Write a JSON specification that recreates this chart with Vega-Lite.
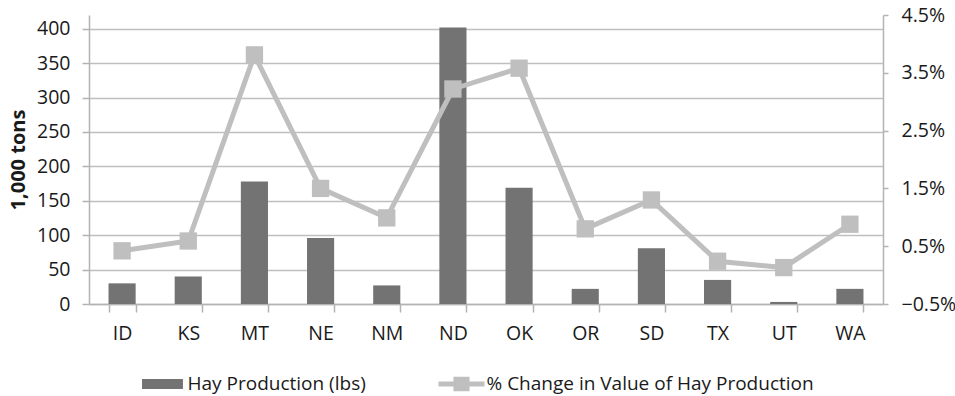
{
  "$schema": "https://vega.github.io/schema/vega-lite/v6.json",
  "width": 794,
  "height": 289,
  "autosize": {"type": "none"},
  "padding": {"left": 89, "top": 15, "right": 72, "bottom": 92},
  "background": "white",
  "config": {
    "font": "Open Sans",
    "view": {"stroke": null},
    "axis": {"labelFont": "Open Sans", "titleFont": "Open Sans", "labelColor": "#1a1a1a", "titleColor": "#1a1a1a", "domainColor": "#b3b3b3", "tickColor": "#b3b3b3", "domainWidth": 1.5, "tickWidth": 1.5}
  },
  "data": {
    "values": [
      {"state": "ID", "prod": 30, "pct": 0.0042},
      {"state": "KS", "prod": 40, "pct": 0.0059},
      {"state": "MT", "prod": 178, "pct": 0.0381},
      {"state": "NE", "prod": 96, "pct": 0.0150},
      {"state": "NM", "prod": 27, "pct": 0.0099},
      {"state": "ND", "prod": 402, "pct": 0.0322},
      {"state": "OK", "prod": 169, "pct": 0.0358},
      {"state": "OR", "prod": 22, "pct": 0.0080},
      {"state": "SD", "prod": 81, "pct": 0.0130},
      {"state": "TX", "prod": 35, "pct": 0.0024},
      {"state": "UT", "prod": 3, "pct": 0.0013},
      {"state": "WA", "prod": 22, "pct": 0.0088}
    ]
  },
  "encoding": {
    "x": {
      "field": "state",
      "type": "nominal",
      "sort": null,
      "scale": {"paddingInner": 0.59, "paddingOuter": 0.295},
      "axis": {"title": null, "labelAngle": 0, "labelFontSize": 19.5, "labelPadding": 12, "tickBand": "extent", "tickSize": 8, "grid": false}
    }
  },
  "layer": [
    {
      "mark": {"type": "bar", "color": "#737373"},
      "encoding": {
        "y": {
          "field": "prod",
          "type": "quantitative",
          "scale": {"domain": [0, 420], "nice": false},
          "axis": {"title": "1,000 tons", "titleFontSize": 20, "titleFontWeight": "bold", "titlePadding": 8, "values": [0, 50, 100, 150, 200, 250, 300, 350, 400], "labelFontSize": 19.5, "labelPadding": 12, "tickSize": 7, "grid": true, "gridColor": "#bfbfbf", "gridWidth": 1.5}
        },
        "color": {
          "datum": "Hay Production (lbs)",
          "type": "nominal",
          "scale": {"domain": ["Hay Production (lbs)", "% Change in Value of Hay Production"], "range": ["#737373", "#bfbfbf"]},
          "legend": {
            "title": null,
            "orient": "none",
            "legendX": 50.5,
            "legendY": 346,
            "direction": "horizontal",
            "labelFontSize": 19,
            "labelColor": "#1a1a1a",
            "labelFont": "Open Sans",
            "labelLimit": 500,
            "symbolSize": 2116,
            "columnPadding": 72,
            "labelOffset": 2,
            "padding": 0,
            "encode": {
              "symbols": {
                "update": {
                  "shape": {"signal": "datum.value == 'Hay Production (lbs)' ? 'M-0.89,-0.22H0.89V0.22H-0.89Z' : 'M-1,-0.11H-0.35V-0.32H0.35V-0.11H1V0.11H0.35V0.32H-0.35V0.11H-1Z'"},
                  "fill": {"signal": "datum.value == 'Hay Production (lbs)' ? '#737373' : '#bfbfbf'"},
                  "stroke": {"value": "transparent"},
                  "strokeWidth": {"value": 0},
                  "opacity": {"value": 1}
                }
              }
            }
          }
        }
      }
    },
    {
      "mark": {"type": "line", "color": "#bfbfbf", "strokeWidth": 5, "point": {"shape": "square", "size": 300, "filled": true, "color": "#bfbfbf", "opacity": 1}},
      "encoding": {
        "y": {
          "field": "pct",
          "type": "quantitative",
          "scale": {"domain": [-0.005, 0.045], "nice": false, "zero": false},
          "axis": {"orient": "right", "title": null, "format": ".1%", "values": [-0.005, 0.005, 0.015, 0.025, 0.035, 0.045], "labelFontSize": 19.5, "labelPadding": 13, "tickSize": 5, "grid": false}
        },
        "color": {"datum": "% Change in Value of Hay Production", "type": "nominal"}
      }
    }
  ],
  "resolve": {"scale": {"y": "independent"}}
}
